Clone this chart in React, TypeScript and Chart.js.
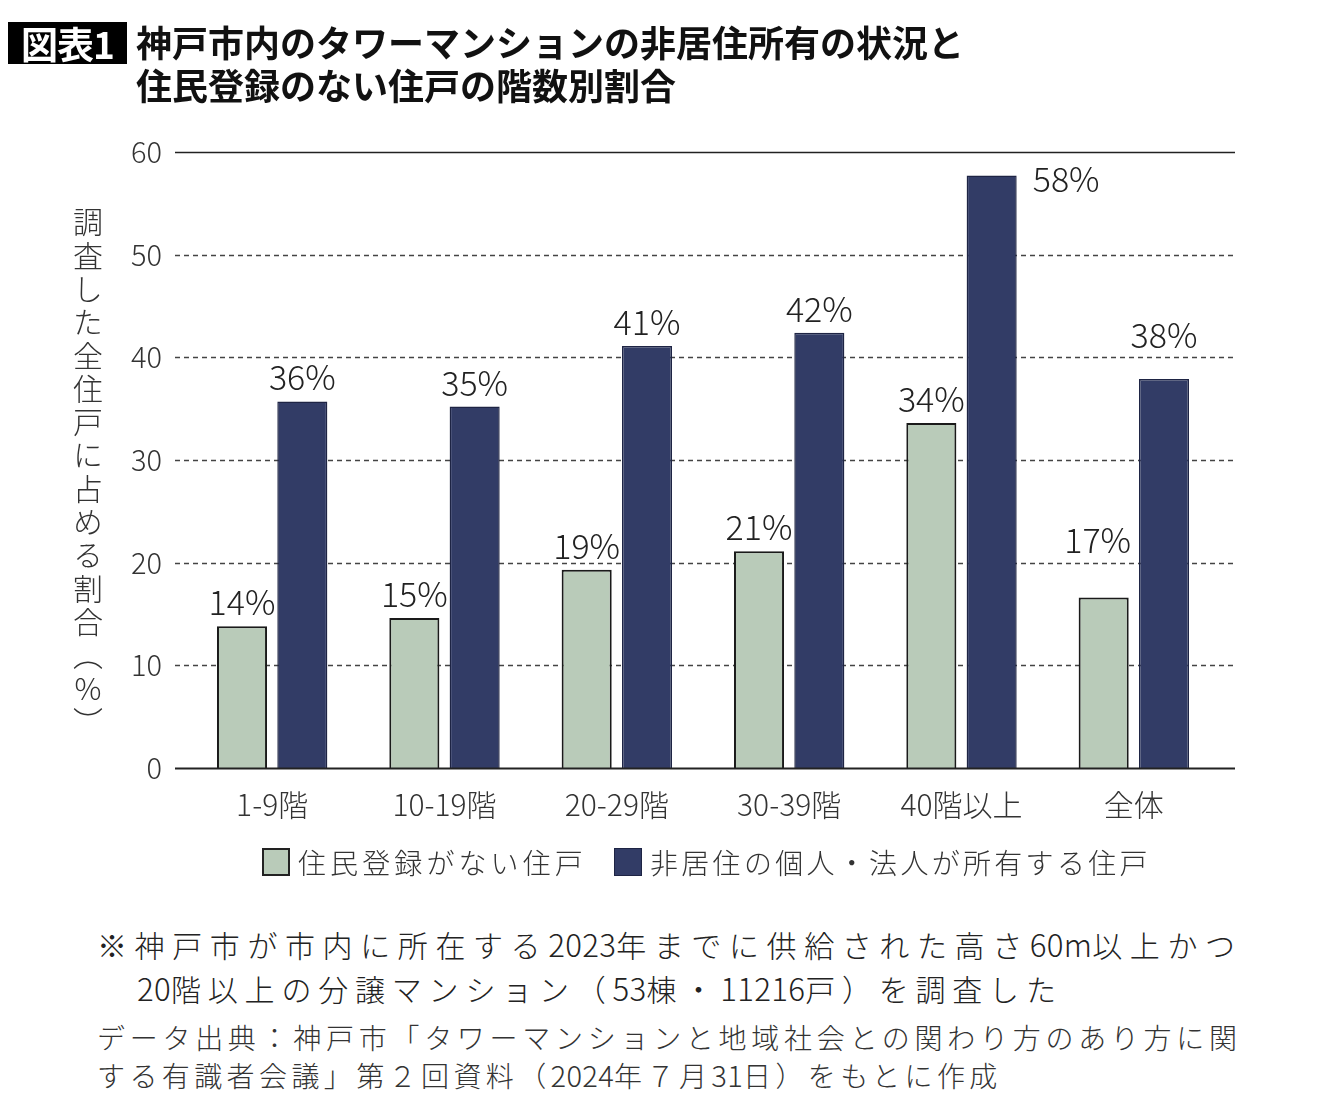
import React, { useEffect, useRef } from "react";
import { Chart, registerables } from "chart.js";

Chart.register(...registerables);

const categories = ["1-9階", "10-19階", "20-29階", "30-39階", "40階以上", "全体"];
const noRegistration = [13.8, 14.6, 19.3, 21.1, 33.6, 16.6];
const nonResidentOwned = [35.7, 35.2, 41.1, 42.4, 57.7, 37.9];
const seriesNames = ["住民登録がない住戸", "非居住の個人・法人が所有する住戸"];
const yTicks = [0, 10, 20, 30, 40, 50, 60];

const GREEN = "#b9cbb9";
const NAVY = "#323c66";
const FONT = '"Noto Sans CJK JP", "Noto Sans", sans-serif';

// extra vertical lift (px) of value labels for the last category, per series
const lastCategoryLift = [34, 20];

const gridAndLabels = {
  id: "gridAndLabels",
  beforeDatasetsDraw(chart: any) {
    const { ctx, chartArea } = chart;
    const y = chart.scales.y;
    const x0 = chartArea.left - 11;
    const x1 = chartArea.right + 15;
    ctx.save();
    yTicks.forEach((v) => {
      if (v === 0) return;
      const py = Math.round(y.getPixelForValue(v)) + 0.5;
      ctx.beginPath();
      if (v === 60) {
        ctx.setLineDash([]);
        ctx.lineWidth = 1.6;
        ctx.strokeStyle = "#222";
      } else {
        ctx.setLineDash([5, 4]);
        ctx.lineWidth = 1.3;
        ctx.strokeStyle = "#444";
      }
      ctx.moveTo(x0, py);
      ctx.lineTo(x1, py);
      ctx.stroke();
    });
    ctx.restore();
  },
  afterDatasetsDraw(chart: any) {
    const { ctx, chartArea } = chart;
    const y = chart.scales.y;
    ctx.save();
    const py = Math.round(y.getPixelForValue(0)) + 0.5;
    ctx.beginPath();
    ctx.setLineDash([]);
    ctx.lineWidth = 1.8;
    ctx.strokeStyle = "#222";
    ctx.moveTo(chartArea.left - 11, py);
    ctx.lineTo(chartArea.right + 15, py);
    ctx.stroke();

    ctx.font = `300 34px ${FONT}`;
    ctx.fillStyle = "#222";
    chart.data.datasets.forEach((ds: any, di: number) => {
      const meta = chart.getDatasetMeta(di);
      const n = meta.data.length;
      meta.data.forEach((bar: any, i: number) => {
        const txt = Math.round(ds.data[i]) + "%";
        const lift = i === n - 1 ? lastCategoryLift[di] : 0;
        const dx = i === n - 1 && di === 0 ? -6 : 0;
        if (bar.y - 11 - 28 < chartArea.top) {
          ctx.textAlign = "left";
          ctx.textBaseline = "middle";
          ctx.fillText(txt, bar.x + bar.width / 2 + 16, bar.y + 3);
        } else {
          ctx.textAlign = "center";
          ctx.textBaseline = "alphabetic";
          ctx.fillText(txt, bar.x + dx, bar.y - 11 - lift);
        }
      });
    });
    ctx.restore();
  },
};

function BarChart() {
  const ref = useRef<HTMLCanvasElement>(null);
  useEffect(() => {
    if (!ref.current) return;
    const chart = new Chart(ref.current, {
      type: "bar",
      data: {
        labels: categories,
        datasets: [
          {
            label: seriesNames[0],
            data: noRegistration,
            backgroundColor: GREEN,
            borderColor: "#1a1a1a",
            borderWidth: 2,
            categoryPercentage: 0.7,
            barPercentage: 0.83,
          },
          {
            label: seriesNames[1],
            data: nonResidentOwned,
            backgroundColor: NAVY,
            borderColor: "#1e2444",
            borderWidth: 1.5,
            categoryPercentage: 0.7,
            barPercentage: 0.83,
          },
        ],
      },
      options: {
        animation: false,
        responsive: false,
        devicePixelRatio: 1,
        layout: { padding: { left: 0, right: 112, top: 144, bottom: 80 } },
        plugins: {
          legend: { display: false },
          tooltip: { enabled: false },
        },
        scales: {
          x: {
            type: "category",
            offset: true,
            grid: { display: false, drawTicks: false },
            border: { display: false },
            ticks: {
              font: { family: FONT, size: 30, weight: "300" },
              color: "#333",
              padding: 19,
              autoSkip: false,
              maxRotation: 0,
            },
            afterFit: (s: any) => {
              s.height = 60;
            },
          },
          y: {
            min: 0,
            max: 60,
            grid: { display: false, drawTicks: false },
            border: { display: false },
            ticks: {
              stepSize: 10,
              font: { family: FONT, size: 29, weight: "300" },
              color: "#333",
              padding: 24,
            },
            afterFit: (s: any) => {
              s.width = 178;
            },
          },
        },
      } as any,
      plugins: [gridAndLabels],
    });
    return () => chart.destroy();
  }, []);
  return (
    <canvas
      ref={ref}
      width={1324}
      height={900}
      style={{ position: "absolute", left: 0, top: 0, width: 1324, height: 900 }}
    />
  );
}

// Render a line where runs of ASCII characters are set tight and the rest spaced.
function Spaced({ text, spacing }: { text: string; spacing: number }) {
  const parts = text.match(/[\x20-\x7e]+|[^\x20-\x7e]+/g) || [];
  return (
    <>
      {parts.map((p, i) => (
        <span
          key={i}
          style={{
            letterSpacing: /^[\x20-\x7e]+$/.test(p) ? 0.3 : spacing,
            fontSize: /^[\x20-\x7e]+$/.test(p) ? "1.04em" : undefined,
          }}
        >
          {p}
        </span>
      ))}
    </>
  );
}

export default function App() {
  return (
    <div
      style={{
        position: "relative",
        width: 1324,
        height: 1096,
        fontFamily: FONT,
        color: "#262626",
        background: "#fff",
        overflow: "hidden",
      }}
    >
      <BarChart />
      <div
        style={{
          position: "absolute",
          left: 0,
          top: 14,
          width: 119,
          height: 42,
          background: "#000",
          color: "#fff",
          fontWeight: 700,
          fontSize: 37,
          lineHeight: "42px",
          textAlign: "center",
          letterSpacing: -1,
          whiteSpace: "nowrap",
        }}
      >
        図表1
      </div>
      <div
        style={{
          position: "absolute",
          left: 128,
          top: 12,
          fontWeight: 700,
          fontSize: 36,
          lineHeight: "43px",
          color: "#111",
          whiteSpace: "nowrap",
        }}
      >
        <div>神戸市内のタワーマンションの非居住所有の状況と</div>
        <div>住民登録のない住戸の階数別割合</div>
      </div>
      <div
        style={{
          position: "absolute",
          left: 64,
          top: 199,
          writingMode: "vertical-rl",
          textOrientation: "upright",
          fontSize: 30,
          fontWeight: 300,
          letterSpacing: 3.3,
          lineHeight: "32px",
          color: "#333",
        }}
      >
        調査した全住戸に占める割合（%）
      </div>
      <div
        style={{
          position: "absolute",
          left: 254,
          top: 840,
          width: 28,
          height: 28,
          boxSizing: "border-box",
          border: "2px solid #222",
          background: GREEN,
        }}
      />
      <div
        style={{
          position: "absolute",
          left: 290,
          top: 837,
          fontSize: 28,
          lineHeight: "34px",
          letterSpacing: 4.1,
          fontWeight: 300,
          color: "#333",
          whiteSpace: "nowrap",
        }}
      >
        {seriesNames[0]}
      </div>
      <div
        style={{
          position: "absolute",
          left: 606,
          top: 840,
          width: 28,
          height: 28,
          boxSizing: "border-box",
          border: "1.5px solid #1e2444",
          background: NAVY,
        }}
      />
      <div
        style={{
          position: "absolute",
          left: 642,
          top: 837,
          fontSize: 28,
          lineHeight: "34px",
          letterSpacing: 3.3,
          fontWeight: 300,
          color: "#333",
          whiteSpace: "nowrap",
        }}
      >
        {seriesNames[1]}
      </div>
      <div
        style={{
          position: "absolute",
          left: 89,
          top: 914,
          width: 1180,
          fontSize: 30,
          lineHeight: "44px",
          fontWeight: 300,
          color: "#222",
          whiteSpace: "nowrap",
        }}
      >
        <div>
          <Spaced text="※神戸市が市内に所在する2023年までに供給された高さ60m以上かつ" spacing={7.6} />
        </div>
        <div style={{ paddingLeft: 40 }}>
          <Spaced text="20階以上の分譲マンション（53棟・11216戸）を調査した" spacing={6.8} />
        </div>
      </div>
      <div
        style={{
          position: "absolute",
          left: 89,
          top: 1011,
          width: 1140,
          fontSize: 28,
          lineHeight: "37px",
          fontWeight: 300,
          color: "#333",
        }}
      >
        <div style={{ textAlign: "justify", textAlignLast: "justify", whiteSpace: "nowrap" }}>
          データ出典：神戸市「タワーマンションと地域社会との関わり方のあり方に関
        </div>
        <div style={{ whiteSpace: "nowrap" }}>
          <Spaced text="する有識者会議」第２回資料（2024年７月31日）をもとに作成" spacing={4.4} />
        </div>
      </div>
    </div>
  );
}
